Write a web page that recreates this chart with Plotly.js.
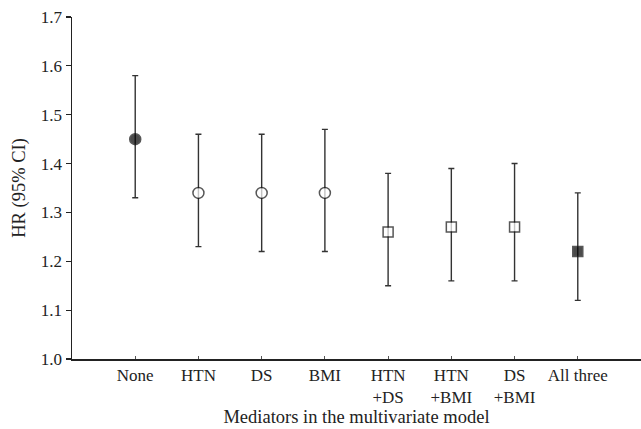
<!DOCTYPE html>
<html>
<head>
<meta charset="utf-8">
<script src="https://cdn.plot.ly/plotly-3.0.1.min.js"></script>
<style>html,body{margin:0;padding:0;background:#fff;}#chart{width:641px;height:429px;}</style>
</head>
<body>
<div id="chart"></div>
<script>
const categories = ["None", "HTN", "DS", "BMI", "HTN<br>+DS", "HTN<br>+BMI", "DS<br>+BMI", "All three"];
const hr = [1.45, 1.34, 1.34, 1.34, 1.26, 1.27, 1.27, 1.22];
const lower = [1.33, 1.23, 1.22, 1.22, 1.15, 1.16, 1.16, 1.12];
const upper = [1.58, 1.46, 1.46, 1.47, 1.38, 1.39, 1.40, 1.34];
const symbols = ["circle", "circle-open", "circle-open", "circle-open", "square-open", "square-open", "square-open", "square"];
const yTicks = [1.0, 1.1, 1.2, 1.3, 1.4, 1.5, 1.6, 1.7];
const yTickLabels = ["1.0", "1.1", "1.2", "1.3", "1.4", "1.5", "1.6", "1.7"];

const errPlus = upper.map((u, i) => u - hr[i]);
const errMinus = lower.map((l, i) => hr[i] - l);

const trace = {
  type: "scatter",
  mode: "markers",
  x: categories,
  y: hr,
  error_y: {
    type: "data",
    array: errPlus,
    arrayminus: errMinus,
    symmetric: false,
    color: "#333333",
    thickness: 1.4,
    width: 3
  },
  marker: {
    symbol: symbols.map(s => s.replace("-open", "")),
    size: symbols.map(s => s.startsWith("circle") ? 11 : 10),
    color: symbols.map(s => s.endsWith("-open") ? "#ffffff" : "#000000"),
    line: { color: "#111111", width: 1.5 }
  },
  hoverinfo: "skip",
  showlegend: false
};

const fam = "Liberation Serif, Times New Roman, serif";
const tickFont = { family: fam, size: 17, color: "#222222" };
const titleFont = { family: fam, size: 18.5, color: "#222222" };

const layout = {
  width: 641,
  height: 429,
  margin: { l: 72, r: 0, t: 17, b: 70 },
  paper_bgcolor: "#ffffff",
  plot_bgcolor: "#ffffff",
  font: tickFont,
  xaxis: {
    type: "category",
    range: [-1, 8],
    showgrid: false,
    zeroline: false,
    showline: true,
    linecolor: "#222222",
    linewidth: 1.5,
    ticks: "inside",
    ticklen: 3,
    tickcolor: "#555555",
    tickwidth: 1,
    tickfont: tickFont,
    title: { text: "Mediators in the multivariate model", font: titleFont, standoff: 4 },
    automargin: false,
    fixedrange: true
  },
  yaxis: {
    range: [1.0, 1.7],
    tickvals: yTicks,
    ticktext: yTickLabels,
    showgrid: false,
    zeroline: false,
    showline: true,
    linecolor: "#222222",
    linewidth: 1.5,
    ticks: "outside",
    ticklen: 5,
    tickcolor: "#222222",
    tickwidth: 1.2,
    tickfont: tickFont,
    title: { text: "HR (95% CI)", font: titleFont, standoff: 10 },
    automargin: false,
    fixedrange: true
  }
};

Plotly.newPlot("chart", [trace], layout, { staticPlot: true, displayModeBar: false });
</script>
</body>
</html>
